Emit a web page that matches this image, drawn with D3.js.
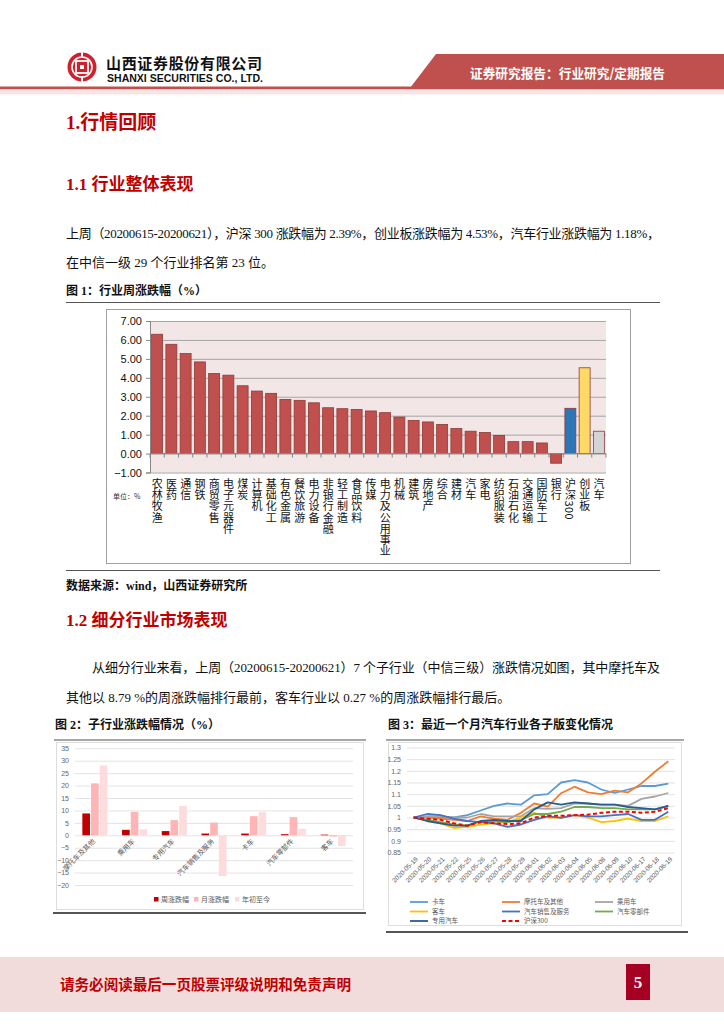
<!DOCTYPE html>
<html><head><meta charset="utf-8">
<script src="https://cdn.jsdelivr.net/npm/d3@7"></script>
<style>
body{margin:0;background:#fff;}
svg{display:block;}
.serif{font-family:"Liberation Serif","Noto Sans CJK SC",serif;}
.sans{font-family:"Liberation Sans","Noto Sans CJK SC",sans-serif;}
.cjk{font-family:"Noto Sans CJK SC",sans-serif;}
.vert{writing-mode:vertical-rl;text-orientation:mixed;}
</style></head>
<body>
<svg id="page" width="724" height="1024"></svg>
<script>
// ---------- Data ----------
const industryNames = ["农林牧渔","医药","通信","钢铁","商贸零售","电子元器件","煤炭","计算机","基础化工","有色金属","餐饮旅游","电力设备","非银行金融","轻工制造","食品饮料","传媒","电力及公用事业","机械","建筑","房地产","综合","建材","汽车","家电","纺织服装","石油石化","交通运输","国防军工","银行","沪深300","创业板","汽车"];
const industryReturns = [6.30,5.77,5.28,4.84,4.23,4.14,3.58,3.30,3.18,2.86,2.81,2.68,2.42,2.37,2.33,2.25,2.16,1.93,1.75,1.67,1.54,1.32,1.18,1.11,0.96,0.63,0.63,0.56,-0.51,2.39,4.53,1.18];
const fig1Ticks = [-1,0,1,2,3,4,5,6,7];

const subIndustries = ["摩托车及其他","乘用车","专用汽车","汽车销售及服务","卡车","汽车零部件","客车"];
const subSeriesNames = ["周涨跌幅","月涨跌幅","年初至今"];
const weekReturns = [8.79,2.2,1.7,0.7,0.7,0.45,0.27];
const monthReturns = [20.9,9.4,6.1,5.1,7.7,7.3,-0.5];
const ytdReturns = [28.1,2.4,11.8,-16.4,9.3,2.6,-4.3];
const fig2Ticks = [-20,-15,-10,-5,0,5,10,15,20,25,30,35];

const dates = ["2020-05-19","2020-05-20","2020-05-21","2020-05-22","2020-05-25","2020-05-26","2020-05-27","2020-05-28","2020-05-29","2020-06-01","2020-06-02","2020-06-03","2020-06-04","2020-06-05","2020-06-08","2020-06-09","2020-06-10","2020-06-17","2020-06-18","2020-06-19"];
const truck      = [1.0,1.005,1.0,1.0,1.01,1.03,1.05,1.06,1.055,1.095,1.10,1.15,1.16,1.15,1.12,1.105,1.12,1.135,1.135,1.145];
const motorcycle = [1.0,1.0,0.995,0.99,0.985,1.005,0.995,0.99,1.02,1.06,1.047,1.104,1.132,1.108,1.10,1.115,1.108,1.146,1.196,1.241];
const passenger  = [1.0,1.005,1.005,1.0,1.0,1.015,1.005,1.005,1.005,1.04,1.037,1.04,1.06,1.06,1.055,1.055,1.05,1.08,1.09,1.105];
const bus        = [1.0,0.985,0.975,0.955,0.96,0.97,0.975,0.98,1.0,1.02,1.0,1.0,1.01,1.0,0.98,0.985,0.995,0.985,0.985,1.005];
const autoSales  = [1.0,1.015,1.01,0.995,0.985,0.98,0.975,0.96,0.97,0.99,1.005,0.998,1.01,1.005,1.005,1.01,1.015,0.99,0.99,1.025];
const autoParts  = [1.0,0.99,0.98,0.97,0.965,0.985,0.985,0.98,0.99,1.015,1.015,1.025,1.045,1.045,1.04,1.04,1.035,1.035,1.035,1.05];
const specialVeh = [1.0,0.985,0.975,0.965,0.965,0.985,0.99,0.985,0.985,1.035,1.065,1.055,1.065,1.06,1.055,1.055,1.045,1.04,1.035,1.05];
const hs300      = [1.0,0.995,0.99,0.975,0.965,0.98,0.975,0.972,0.975,1.0,1.007,1.007,1.01,1.012,1.02,1.025,1.025,1.02,1.025,1.04];
const lineNames = ["卡车","摩托车及其他","乘用车","客车","汽车销售及服务","汽车零部件","专用汽车","沪深300"];
const fig3Ticks = [0.85,0.9,0.95,1,1.05,1.1,1.15,1.2,1.25,1.3];

// ---------- Page ----------
const svg = d3.select("#page");
const RED = "#C00000";

// header
svg.append("circle").attr("cx",82).attr("cy",67).attr("r",14.5).attr("fill","#D0202E");
svg.append("circle").attr("cx",82).attr("cy",67).attr("r",10).attr("fill","none").attr("stroke","#fff").attr("stroke-width",1.6);
svg.append("rect").attr("x",76).attr("y",61).attr("width",12).attr("height",12).attr("fill","#D0202E").attr("stroke","#fff").attr("stroke-width",1.8);
svg.append("rect").attr("x",80).attr("y",65).attr("width",4).attr("height",4).attr("fill","#fff");
svg.append("rect").attr("x",81).attr("y",52).attr("width",2).attr("height",6).attr("fill","#fff");
svg.append("rect").attr("x",81).attr("y",76).attr("width",2).attr("height",6).attr("fill","#fff");
svg.append("text").attr("class","cjk").attr("x",106).attr("y",69).attr("font-size",15).attr("font-weight",700)
  .attr("textLength",156).attr("lengthAdjust","spacing").attr("fill","#111").text("山西证券股份有限公司");
svg.append("text").attr("class","sans").attr("x",107).attr("y",82).attr("font-size",10.5).attr("font-weight",700)
  .attr("textLength",156).attr("lengthAdjust","spacingAndGlyphs").attr("fill","#111").text("SHANXI SECURITIES CO., LTD.");
svg.append("polygon").attr("points","436,54 724,54 724,88 410,88").attr("fill","#C0504D");
svg.append("text").attr("class","cjk").attr("x",470).attr("y",78).attr("font-size",13).attr("font-weight",700)
  .attr("textLength",195).attr("lengthAdjust","spacingAndGlyphs").attr("fill","#fff").text("证券研究报告：行业研究/定期报告");
svg.append("rect").attr("x",0).attr("y",86.5).attr("width",724).attr("height",3).attr("fill","#C0504D");
svg.append("rect").attr("x",0).attr("y",89.5).attr("width",724).attr("height",5).attr("fill","#F7E4E4");

// headings and paragraphs
svg.append("text").attr("class","serif").attr("x",66).attr("y",129).attr("font-size",19).attr("font-weight",700).attr("fill",RED).text("1.行情回顾");
svg.append("text").attr("class","serif").attr("x",66).attr("y",190).attr("font-size",17).attr("font-weight",700).attr("fill",RED).text("1.1 行业整体表现");
svg.append("text").attr("class","serif").attr("x",66).attr("y",238).attr("font-size",13).attr("fill","#111")
  .attr("textLength",594).attr("lengthAdjust","spacing").text("上周（20200615-20200621），沪深 300 涨跌幅为 2.39%，创业板涨跌幅为 4.53%，汽车行业涨跌幅为 1.18%，");
svg.append("text").attr("class","serif").attr("x",66).attr("y",267).attr("font-size",13).attr("fill","#111").text("在中信一级 29 个行业排名第 23 位。");
svg.append("text").attr("class","serif").attr("x",66).attr("y",295).attr("font-size",12).attr("font-weight",700).attr("fill","#111").text("图 1：行业周涨跌幅（%）");
svg.append("line").attr("x1",66).attr("x2",660).attr("y1",302.5).attr("y2",302.5).attr("stroke","#555").attr("stroke-width",1);

// ---------- Figure 1 ----------
svg.append("rect").attr("x",106.5).attr("y",309.5).attr("width",524).attr("height",254).attr("fill","#fff").attr("stroke","#A0A0A0");
const x1 = d3.scaleBand().domain(d3.range(industryNames.length)).range([150,606]).paddingInner(0.23).paddingOuter(0.115);
const y1 = d3.scaleLinear().domain([-1,7]).range([472.5,321]);
const g1 = svg.append("g");
g1.append("rect").attr("x",150).attr("y",y1(7)).attr("width",456).attr("height",y1(-1)-y1(7)).attr("fill","#F2E6E6");
g1.append("g").attr("transform","translate(150,0)")
  .call(d3.axisLeft(y1).tickValues(fig1Ticks).tickSize(-456).tickFormat(""))
  .call(g=>{g.select(".domain").remove();g.selectAll("line").attr("stroke","#A6A6A6");});
g1.append("g").attr("transform","translate(150,0)")
  .call(d3.axisLeft(y1).tickValues(fig1Ticks).tickSize(4).tickFormat(d3.format(".2f")))
  .call(g=>{g.select(".domain").attr("stroke","#888");g.selectAll("line").attr("stroke","#888");
    g.selectAll("text").attr("class","sans").attr("font-size",11).attr("fill","#111").attr("x",-8);});
const barFill = (i)=> i===29?"#2E75B6": i===30?"#FFD966": i===31?"#D4D4D4":"#C0504D";
g1.selectAll(".bar").data(industryReturns).join("rect")
  .attr("x",(d,i)=>x1(i)).attr("width",x1.bandwidth())
  .attr("y",d=>y1(Math.max(0,d))).attr("height",d=>Math.abs(y1(d)-y1(0)))
  .attr("fill",(d,i)=>barFill(i)).attr("stroke","#8E3B39").attr("stroke-width",0.8);
// x axis at zero with tick marks between categories
g1.append("line").attr("x1",150).attr("x2",606).attr("y1",y1(0)).attr("y2",y1(0)).attr("stroke","#888");
g1.selectAll(".xt").data(d3.range(industryNames.length+1)).join("line")
  .attr("x1",i=>150+i*x1.step()).attr("x2",i=>150+i*x1.step())
  .attr("y1",y1(0)).attr("y2",y1(0)+4).attr("stroke","#888");
// vertical category labels (one vertical text each)
g1.selectAll(".catlab").data(industryNames).join("text")
  .attr("class","cjk vert").attr("font-size",11).attr("fill","#111")
  .attr("letter-spacing",0.3)
  .attr("x",(d,i)=>x1(i)+x1.bandwidth()/2).attr("y",478)
  .text(d=>d);
g1.append("text").attr("class","cjk").attr("x",113).attr("y",499).attr("font-size",7).attr("fill","#333").text("单位：%");

svg.append("line").attr("x1",66).attr("x2",660).attr("y1",570.5).attr("y2",570.5).attr("stroke","#555");
svg.append("text").attr("class","serif").attr("x",66).attr("y",590).attr("font-size",12).attr("font-weight",700).attr("fill","#111").text("数据来源：wind，山西证券研究所");

svg.append("text").attr("class","serif").attr("x",66).attr("y",626).attr("font-size",17).attr("font-weight",700).attr("fill",RED).text("1.2 细分行业市场表现");
svg.append("text").attr("class","serif").attr("x",92).attr("y",672).attr("font-size",13).attr("fill","#111")
  .attr("textLength",568).attr("lengthAdjust","spacing").text("从细分行业来看，上周（20200615-20200621）7 个子行业（中信三级）涨跌情况如图，其中摩托车及");
svg.append("text").attr("class","serif").attr("x",66).attr("y",702).attr("font-size",13).attr("fill","#111").text("其他以 8.79 %的周涨跌幅排行最前，客车行业以 0.27 %的周涨跌幅排行最后。");

svg.append("text").attr("class","serif").attr("x",55).attr("y",729).attr("font-size",12).attr("font-weight",700).attr("fill","#111").text("图 2：子行业涨跌幅情况（%）");
svg.append("text").attr("class","serif").attr("x",388).attr("y",729).attr("font-size",12).attr("font-weight",700).attr("fill","#111").text("图 3：最近一个月汽车行业各子版变化情况");

// ---------- Figure 2 ----------
svg.append("line").attr("x1",54).attr("x2",366).attr("y1",740).attr("y2",740).attr("stroke","#8A8A8A").attr("stroke-width",1.5);
svg.append("rect").attr("x",56.5).attr("y",742.5).attr("width",307).attr("height",167).attr("fill","#fff").attr("stroke","#DDD");
svg.append("line").attr("x1",53).attr("x2",366).attr("y1",913).attr("y2",913).attr("stroke","#555").attr("stroke-width",2);
const x2 = d3.scaleBand().domain(subIndustries).range([75,353]).paddingInner(0.37).paddingOuter(0.185);
const xs2 = d3.scaleBand().domain(subSeriesNames).range([0,x2.bandwidth()]).paddingInner(0.12);
const y2 = d3.scaleLinear().domain([-20,35]).range([885,748.3]);
const g2 = svg.append("g");
g2.append("g").attr("transform","translate(75,0)")
  .call(d3.axisLeft(y2).tickValues(fig2Ticks).tickSize(-278).tickFormat(d3.format("d")))
  .call(g=>{g.select(".domain").remove();g.selectAll("line").attr("stroke","#E3E3E3");
    g.selectAll("text").attr("class","sans").attr("font-size",7).attr("fill","#666").attr("x",-6);});
const fig2Colors = ["#C00000","#FFB5B5","#FFDCDC"];
const fig2Data = [weekReturns,monthReturns,ytdReturns];
fig2Data.forEach((arr,s)=>{
  g2.selectAll(".b"+s).data(arr).join("rect")
    .attr("x",(d,i)=>x2(subIndustries[i])+xs2(subSeriesNames[s])).attr("width",xs2.bandwidth())
    .attr("y",d=>y2(Math.max(0,d))).attr("height",d=>Math.abs(y2(d)-y2(0))).attr("fill",fig2Colors[s]);
});
subIndustries.forEach(name=>{
  const cx = x2(name)+x2.bandwidth()/2;
  g2.append("text").attr("class","cjk").attr("font-size",7).attr("fill","#595959").attr("text-anchor","end")
    .attr("transform",`translate(${cx-1},${840}) rotate(-45)`).attr("dy","0.35em").text(name);
});
const leg2x = [154,194,235];
subSeriesNames.forEach((n,s)=>{
  g2.append("rect").attr("x",leg2x[s]).attr("y",897).attr("width",4.5).attr("height",4.5).attr("fill",fig2Colors[s]);
  g2.append("text").attr("class","cjk").attr("x",leg2x[s]+7).attr("y",902).attr("font-size",7).attr("fill","#595959").text(n);
});

// ---------- Figure 3 ----------
svg.append("line").attr("x1",386).attr("x2",684).attr("y1",740).attr("y2",740).attr("stroke","#8A8A8A").attr("stroke-width",1.5);
svg.append("rect").attr("x",388.5).attr("y",742.5).attr("width",293).attr("height",183).attr("fill","#fff").attr("stroke","#DDD");
svg.append("line").attr("x1",386).attr("x2",688).attr("y1",932).attr("y2",932).attr("stroke","#555").attr("stroke-width",2);
const x3 = d3.scalePoint().domain(dates).range([413.7,668.3]);
const y3 = d3.scaleLinear().domain([0.85,1.3]).range([852.5,747.5]);
const g3 = svg.append("g");
g3.append("g").attr("transform","translate(407,0)")
  .call(d3.axisLeft(y3).tickValues(fig3Ticks).tickSize(-268).tickFormat(d=>String(+d.toFixed(2))))
  .call(g=>{g.select(".domain").remove();g.selectAll("line").attr("stroke","#E3E3E3");
    g.selectAll("text").attr("class","sans").attr("font-size",7).attr("fill","#666").attr("x",-6);});
const lineSeries = [truck,motorcycle,passenger,bus,autoSales,autoParts,specialVeh,hs300];
const lineColors = ["#5B9BD5","#ED7D31","#A5A5A5","#FFC000","#4472C4","#70AD47","#255E91","#FF0000"];
const line3 = d3.line().x((d,i)=>x3(dates[i])).y(d=>y3(d));
lineSeries.forEach((arr,s)=>{
  g3.append("path").datum(arr).attr("d",line3).attr("fill","none").attr("stroke",lineColors[s])
    .attr("stroke-width",s===7?2:1.8).attr("stroke-linejoin","round")
    .attr("stroke-dasharray",s===7?"4,2.5":null);
});
dates.forEach(d=>{
  g3.append("text").attr("class","sans").attr("font-size",6.5).attr("fill","#595959").attr("text-anchor","end")
    .attr("transform",`translate(${x3(d)+3},${858}) rotate(-45)`).attr("dy","0.35em").text(d);
});
const legCols = [410,502,595], legRows = [902,911.5,921];
lineNames.forEach((n,s)=>{
  const lx = legCols[s%3], ly = legRows[Math.floor(s/3)];
  g3.append("line").attr("x1",lx).attr("x2",lx+18).attr("y1",ly).attr("y2",ly).attr("stroke",lineColors[s])
    .attr("stroke-width",s===7?2:1.8).attr("stroke-dasharray",s===7?"4,2.5":null);
  g3.append("text").attr("class","cjk").attr("x",lx+22).attr("y",ly).attr("dy","0.35em").attr("font-size",6.5).attr("fill","#595959").text(n);
});

// ---------- Footer ----------
svg.append("rect").attr("x",0).attr("y",957).attr("width",724).attr("height",55).attr("fill","#F2DCDB");
svg.append("text").attr("class","cjk").attr("x",60).attr("y",990).attr("font-size",14.5).attr("font-weight",700).attr("fill","#C00000")
  .attr("textLength",291).attr("lengthAdjust","spacingAndGlyphs").text("请务必阅读最后一页股票评级说明和免责声明");
svg.append("rect").attr("x",626).attr("y",964).attr("width",24).attr("height",36).attr("fill","#A50021");
svg.append("text").attr("class","serif").attr("x",638).attr("y",988).attr("text-anchor","middle").attr("font-size",17).attr("font-weight",700).attr("fill","#fff").text("5");
</script>
</body></html>
